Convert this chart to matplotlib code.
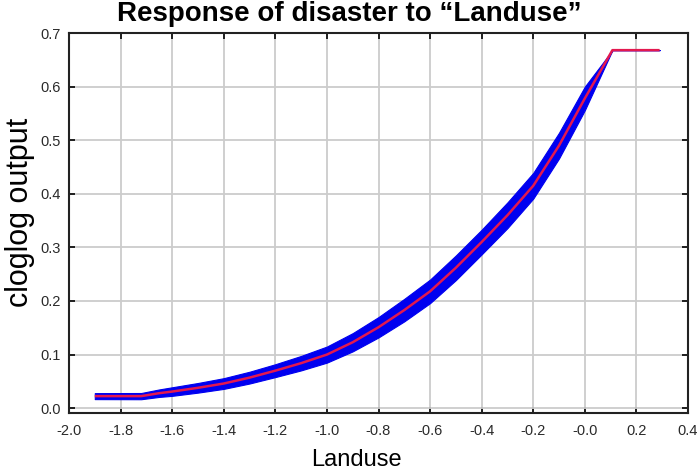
import matplotlib
matplotlib.use("Agg")
import matplotlib.pyplot as plt
import numpy as np

# Data
landuse_x = [-1.90, -1.72, -1.65, -1.60, -1.50, -1.40, -1.30, -1.20, -1.10, -1.00, -0.90,
             -0.80, -0.70, -0.60, -0.50, -0.40, -0.30, -0.20, -0.10, 0.00, 0.107, 0.29]
mean_y = [0.0225, 0.0225, 0.028, 0.031, 0.038, 0.046, 0.057, 0.070, 0.084, 0.100, 0.123,
          0.151, 0.183, 0.218, 0.262, 0.310, 0.360, 0.415, 0.490, 0.578, 0.668, 0.668]
sd_y = [0.0056, 0.0058, 0.0070, 0.008, 0.009, 0.010, 0.011, 0.012, 0.0135, 0.015, 0.017,
        0.019, 0.021, 0.022, 0.023, 0.023, 0.024, 0.024, 0.024, 0.022, 0.0, 0.0]

xticks = [-2.0, -1.8, -1.6, -1.4, -1.2, -1.0, -0.8, -0.6, -0.4, -0.2, 0.0, 0.2, 0.4]
xtick_labels = ["-2.0", "-1.8", "-1.6", "-1.4", "-1.2", "-1.0", "-0.8", "-0.6",
                "-0.4", "-0.2", "-0.0", "0.2", "0.4"]
yticks = [0.0, 0.1, 0.2, 0.3, 0.4, 0.5, 0.6, 0.7]
ytick_labels = ["0.0", "0.1", "0.2", "0.3", "0.4", "0.5", "0.6", "0.7"]

title = "Response of disaster to \u201cLanduse\u201d"
xlabel = "Landuse"
ylabel = "cloglog output"

plt.rcParams['font.family'] = ['Liberation Sans', 'DejaVu Sans']

fig = plt.figure(figsize=(6.98, 4.72), dpi=100)
ax = fig.add_axes([69/698, 1-413/472, (688-69)/698, (413-33)/472])

x = np.array(landuse_x)
m = np.array(mean_y)
s = np.array(sd_y)

ax.fill_between(x, m - s, m + s, color='#0000f0', lw=0.8, zorder=2)
ax.plot(x, m, color='#e3184f', lw=1.8, zorder=3, solid_capstyle='butt')

ax.set_xlim(-2.0, 0.4)
ax.set_ylim(-0.009, 0.7)
ax.set_xticks(xticks)
ax.set_xticklabels(xtick_labels)
ax.set_yticks(yticks)
ax.set_yticklabels(ytick_labels)

ax.grid(True, color='#cccccc', lw=1.3, zorder=0)
ax.set_axisbelow(True)
ax.tick_params(direction='in', length=4, width=1.2, colors='black',
               labelcolor='#2a2a2a', labelsize=10.5, top=True, right=True)
ax.tick_params(axis='x', pad=8)
ax.tick_params(axis='y', pad=6)
for sp in ax.spines.values():
    sp.set_color('#222222')
    sp.set_linewidth(1.5)

fig.text(349/698, 1-14/472, title, ha='center', va='center',
         fontsize=20, fontweight='bold', color='black')
fig.text(356/698, 1-460/472, xlabel, ha='center', va='center', fontsize=17, color='black')
fig.text(20/698, 1-212/472, ylabel, ha='center', va='center', rotation=90,
         fontsize=22, color='black')

fig.savefig("out.png", dpi=100)
